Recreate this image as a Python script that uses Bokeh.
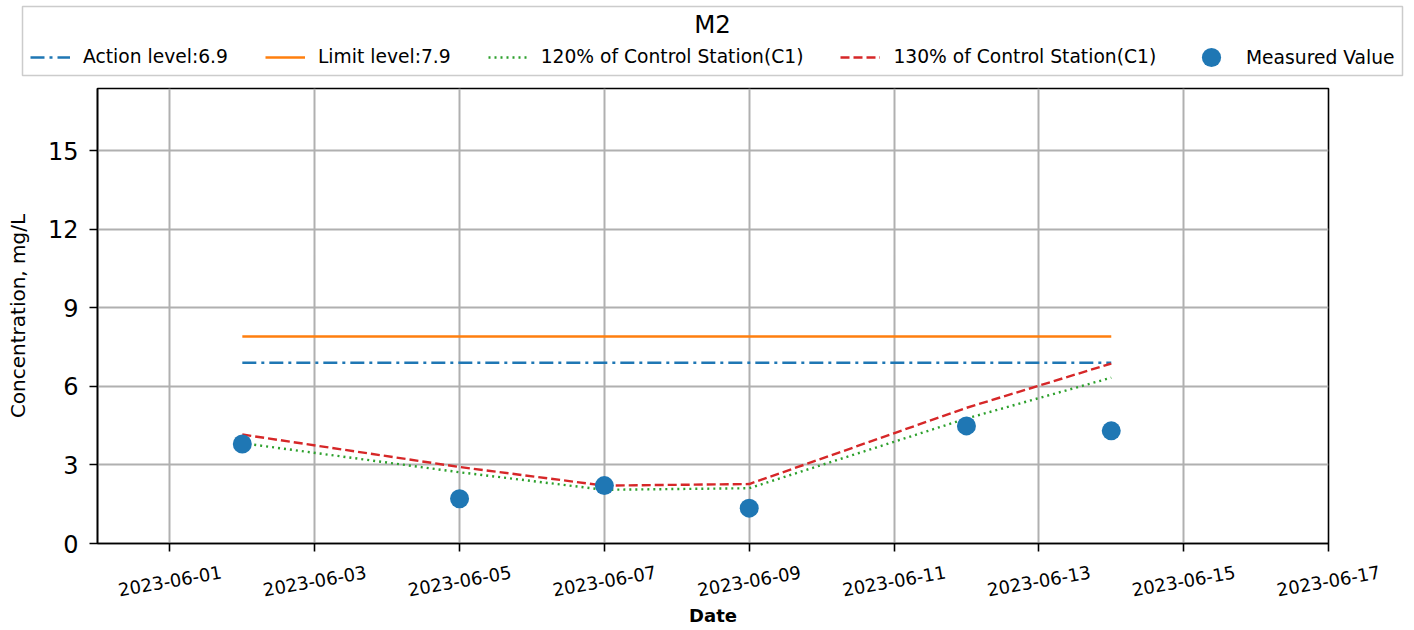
import datetime as dt
from bokeh.plotting import figure
from bokeh.layouts import column
from bokeh.models import (Legend, LegendItem, FixedTicker, DatetimeTickFormatter,
                          Range1d, Label, ColumnDataSource)
from bokeh.core.properties import value
from bokeh.embed import file_html
from bokeh.resources import INLINE

# ---- data ----
dates = ["2023-06-02", "2023-06-05", "2023-06-07", "2023-06-09", "2023-06-12", "2023-06-14"]
measured = [3.80, 1.71, 2.21, 1.35, 4.49, 4.30]
pct120 = [3.83, 2.72, 2.05, 2.11, 4.77, 6.33]
pct130 = [4.16, 2.92, 2.21, 2.27, 5.18, 6.87]
action_level = 6.9
limit_level = 7.9
y_ticks = [0, 3, 6, 9, 12, 15]
x_tick_labels = ["2023-06-01", "2023-06-03", "2023-06-05", "2023-06-07", "2023-06-09",
                 "2023-06-11", "2023-06-13", "2023-06-15", "2023-06-17"]
series_names = ["Action level:6.9", "Limit level:7.9", "120% of Control Station(C1)",
                "130% of Control Station(C1)", "Measured Value"]
chart_title = "M2"
x_start, x_end = "2023-05-31", "2023-06-17"
y_start, y_end = 0, 17.37

FONT = "DejaVu Sans"
BLUE, ORANGE, GREEN, RED = "#1f77b4", "#ff7f0e", "#2ca02c", "#d62728"
LW = 2.4
DASH_ACTION, DASH_120, DASH_130 = "14 5 3 5", "2 4", "9 4"


def d(s):
    return dt.datetime.strptime(s, "%Y-%m-%d")


W = 1410
BL, BR = 97, 82
TOP_H = 84
BOX_L, BOX_R, BOX_T, BOX_B = 22, 1402, 6, 75     # legend box edges (page pixels)
MAIN_TOP, FRAME_H, MAIN_BOT = 4, 455, 17
BOT_H = 68
FRAME_W = W - BL - BR

xs = [d(s) for s in dates]
src = ColumnDataSource(dict(x=xs, m=measured, g=pct120, r=pct130,
                            a=[action_level] * len(xs), l=[limit_level] * len(xs)))
x_range = Range1d(d(x_start), d(x_end))

# ---------------- top: legend box (its frame is the box) ----------------
top = figure(width=W, height=TOP_H, output_backend="svg", toolbar_location=None,
             x_range=Range1d(BOX_L, BOX_R), y_range=Range1d(TOP_H - BOX_B, TOP_H - BOX_T),
             x_axis_location=None, y_axis_location=None,
             min_border_left=BOX_L, min_border_right=W - BOX_R,
             min_border_top=BOX_T, min_border_bottom=TOP_H - BOX_B)
top.frame_align = False
top.outline_line_color = "#cccccc"
top.outline_line_width = 1.5
top.grid.visible = False
top.background_fill_color = "white"
top.border_fill_color = "white"
# legend proxies: same series, far outside this strip's visible range
la = top.line("x", "a", source=src, color=BLUE, line_width=LW, line_dash=DASH_ACTION)
ll = top.line("x", "l", source=src, color=ORANGE, line_width=LW)
lg = top.line("x", "g", source=src, color=GREEN, line_width=LW, line_dash=DASH_120)
lr = top.line("x", "r", source=src, color=RED, line_width=LW, line_dash=DASH_130)
lm = top.scatter("x", "m", source=src, size=19, color=BLUE, line_color=None)

common = dict(orientation="horizontal", label_text_font=FONT, label_text_font_size="18.7px",
              label_text_color="black", border_line_color=None, background_fill_alpha=0,
              padding=0, margin=0)
legend_lines = Legend(items=[LegendItem(label=n, renderers=[r]) for n, r in
                             zip(series_names[:4], [la, ll, lg, lr])],
                      location=(8, 8), glyph_width=40, glyph_height=20, label_height=20,
                      label_standoff=13, spacing=37, **common)
legend_marker = Legend(items=[LegendItem(label=series_names[4], renderers=[lm])],
                       location=(1165, -6), glyph_width=48, glyph_height=48,
                       label_standoff=11, **common)
top.add_layout(legend_lines, "center")
top.add_layout(legend_marker, "center")
top.add_layout(Label(x=712, y=TOP_H - 24, text=chart_title, text_align="center",
                     text_baseline="middle", text_font=FONT, text_font_size="24.5px",
                     text_color="black", level="overlay"))

# ---------------- main plot ----------------
p = figure(width=W, height=MAIN_TOP + FRAME_H + MAIN_BOT, x_axis_type="datetime",
           output_backend="svg", toolbar_location=None,
           x_range=x_range, y_range=Range1d(y_start, y_end),
           min_border_left=BL, min_border_right=BR, min_border_top=MAIN_TOP,
           min_border_bottom=MAIN_BOT)
p.background_fill_color = "white"
p.border_fill_color = "white"
p.outline_line_color = "black"
p.outline_line_width = 1.6

p.line("x", "a", source=src, color=BLUE, line_width=LW, line_dash=DASH_ACTION)
p.line("x", "l", source=src, color=ORANGE, line_width=LW)
p.line("x", "g", source=src, color=GREEN, line_width=LW, line_dash=DASH_120)
p.line("x", "r", source=src, color=RED, line_width=LW, line_dash=DASH_130)
p.scatter("x", "m", source=src, size=19, color=BLUE, line_color=None)

xticks = [d(s).replace(tzinfo=dt.timezone.utc).timestamp() * 1000 for s in x_tick_labels]
p.xaxis.ticker = FixedTicker(ticks=xticks, minor_ticks=[])
p.xaxis.formatter = DatetimeTickFormatter(days="%Y-%m-%d", months="%Y-%m-%d", hours="%Y-%m-%d")
p.xaxis.major_label_text_font_size = "1px"
p.xaxis.major_label_text_color = None
p.xaxis.major_label_standoff = 0
p.yaxis.ticker = FixedTicker(ticks=y_ticks, minor_ticks=[])
for ax in (p.xaxis, p.yaxis):
    ax.axis_line_color = "black"
    ax.axis_line_width = 1.6
    ax.major_tick_line_color = "black"
    ax.major_tick_line_width = 1.6
    ax.major_tick_in = 0
    ax.major_tick_out = 8
    ax.minor_tick_line_color = None
    ax.major_label_text_font = FONT
    ax.axis_label_text_font = FONT
    ax.axis_label_text_color = "black"
p.yaxis.major_label_text_color = "black"
p.yaxis.major_label_text_font_size = "24px"
p.yaxis.major_label_standoff = 11
p.yaxis.axis_label = "Concentration, mg/L"
p.yaxis.axis_label_text_font_style = "normal"
p.yaxis.axis_label_text_font_size = "20px"
p.yaxis.axis_label_standoff = 15

p.grid.grid_line_color = "#b0b0b0"
p.grid.grid_line_width = 2
p.xgrid.ticker = FixedTicker(ticks=xticks, minor_ticks=[])
p.ygrid.ticker = FixedTicker(ticks=y_ticks, minor_ticks=[])

# ---------------- bottom: rotated date labels + axis title ----------------
span = d(x_end) - d(x_start)
per_px = span / FRAME_W
bot = figure(width=W, height=BOT_H, x_axis_type="datetime", output_backend="svg",
             toolbar_location=None,
             x_range=Range1d(d(x_start) - per_px * BL, d(x_end) + per_px * BR),
             y_range=Range1d(0, BOT_H),
             x_axis_location=None, y_axis_location=None,
             min_border_left=0, min_border_right=0, min_border_top=0, min_border_bottom=0)
bot.frame_align = False
bot.outline_line_color = None
bot.grid.visible = False
bot.background_fill_color = "white"
bot.border_fill_color = "white"
lab_src = ColumnDataSource(dict(x=[d(s) for s in x_tick_labels], text=x_tick_labels,
                                y=[BOT_H - 20.5] * len(x_tick_labels)))
bot.text("x", "y", text="text", source=lab_src, angle=0.1745, text_align="center",
         text_baseline="middle", text_font=value(FONT), text_font_size="18px",
         text_color="black")
mid = d(x_start) + span / 2
bot.add_layout(Label(x=mid, y=13, text="Date", text_align="center",
                     text_baseline="middle", text_font=FONT, text_font_size="18px",
                     text_font_style="bold", text_color="black"))

layout = column(top, p, bot, spacing=0)
open("out.html", "w").write(file_html(layout, INLINE))
